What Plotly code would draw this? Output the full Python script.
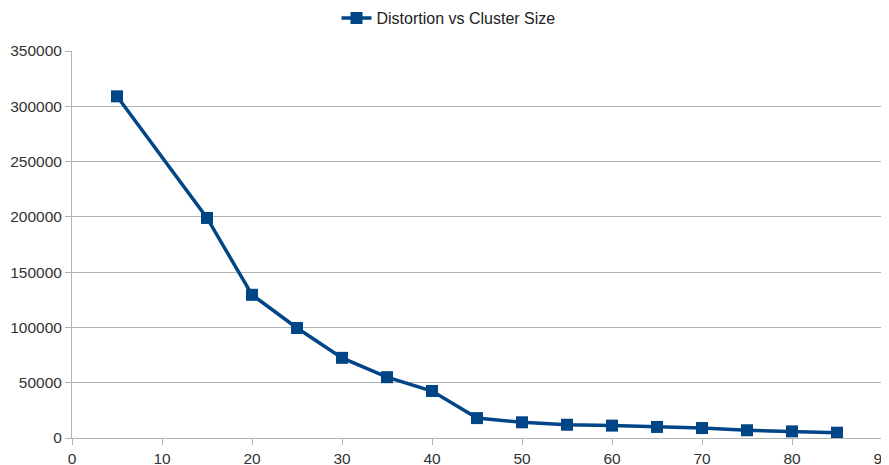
import plotly.graph_objects as go

cluster_size = [5, 15, 20, 25, 30, 35, 40, 45, 50, 55, 60, 65, 70, 75, 80, 85]
distortion = [309000, 199000, 129500, 99500, 72500, 55000, 42500, 18000, 14200, 12000,
              11200, 10000, 9000, 7000, 6000, 4800]
x_ticks = [0, 10, 20, 30, 40, 50, 60, 70, 80, 90]
y_ticks = [0, 50000, 100000, 150000, 200000, 250000, 300000, 350000]

# page body has an 8px default margin; compensate so the window view matches
W, H = 881, 457

fig = go.Figure()
fig.add_trace(go.Scatter(
    x=cluster_size, y=distortion, mode="lines+markers",
    name="Distortion vs Cluster Size",
    line=dict(color="#004586", width=3.5),
    marker=dict(symbol="square", size=12, color="#004586"),
))

fig.update_layout(
    width=W, height=H,
    margin=dict(l=64, r=7, t=43, b=27, autoexpand=False),
    paper_bgcolor="white", plot_bgcolor="white",
    font=dict(family="Liberation Sans, Arial, sans-serif", size=15.5, color="#333333"),
    showlegend=True,
    legend=dict(orientation="h", xref="container", x=0.5, xanchor="center",
                yref="container", y=1 - 10 / H, yanchor="middle",
                font=dict(size=16, color="#222222"), itemwidth=30),
    xaxis=dict(range=[0, 90], tickvals=x_ticks, ticktext=[str(v) for v in x_ticks],
               showgrid=False, zeroline=False, automargin=False,
               ticklabeloverflow="allow",
               showline=True, linecolor="#b3b3b3", linewidth=1,
               ticks="outside", ticklen=6, tickcolor="#b3b3b3"),
    yaxis=dict(range=[0, 350000], tickvals=y_ticks, ticktext=[str(v) for v in y_ticks],
               showgrid=True, gridcolor="#b3b3b3", automargin=False,
               gridwidth=1, zeroline=False, showline=True, linecolor="#b3b3b3",
               linewidth=1, mirror=True, ticks="outside", ticklen=6, tickcolor="#b3b3b3"),
)

fig.write_html("out.html")
